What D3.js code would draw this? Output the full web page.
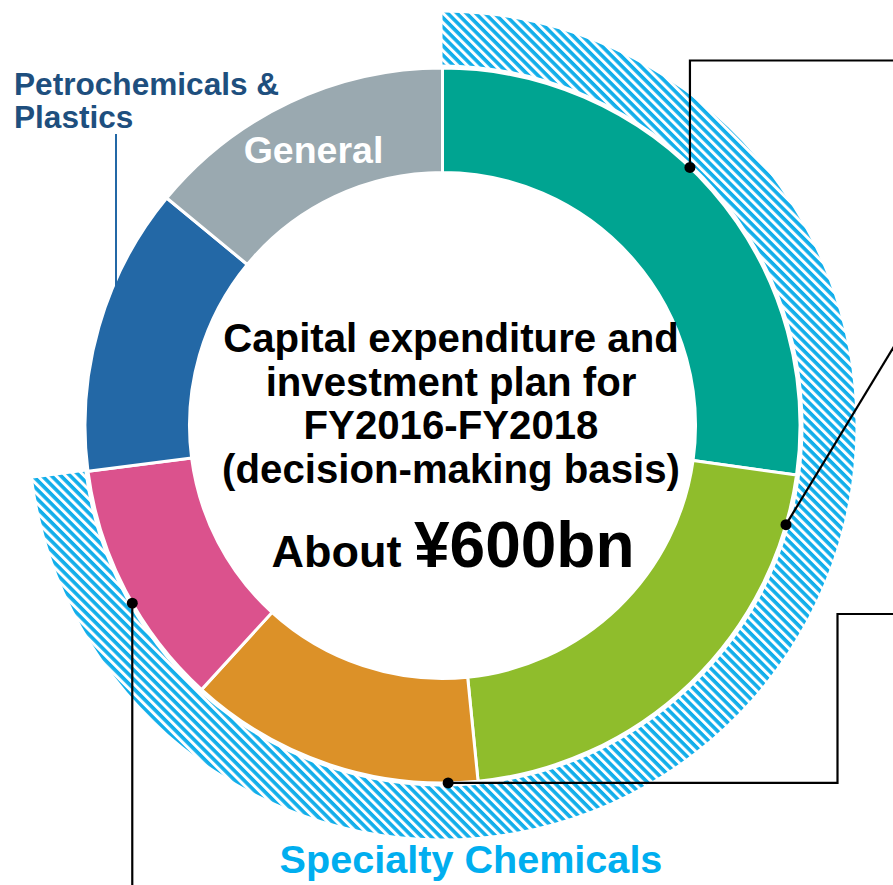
<!DOCTYPE html>
<meta charset="utf-8">
<style>
body { margin: 0; background: #fff; }
svg { display: block; }
text { font-family: "Liberation Sans", Arial, Helvetica, sans-serif; font-weight: bold; }
</style>
<svg width="893" height="885"></svg>
<script src="https://d3js.org/d3.v7.min.js"></script>
<script>

// segments, clockwise from 12 o'clock (¥bn, approx)
var segments = ["Specialty A", "Specialty B", "Specialty C", "Specialty D", "Petrochemicals & Plastics", "General"];
var amounts  = [163, 127, 80, 67, 78, 84];
var colours  = ["#00a491", "#8fbd2c", "#dc9128", "#db528d", "#2368a6", "#9aa9b0"];
var specialty = [true, true, true, true, false, false];

// where the leader dots sit on the ring (degrees, clockwise from top)
var dotAngles = [43.8, 106.1, 179.1, 240.2];

var centerLines = ["Capital expenditure and", "investment plan for", "FY2016-FY2018", "(decision-making basis)"];

var svg = d3.select("svg"),
    width = +svg.attr("width"),
    height = +svg.attr("height"),
    cx = 442.5, cy = 425.5,
    outerR = 357.5, innerR = 253,
    hatchIn = 361, hatchOut = 413;

var rad = Math.PI / 180;

var defs = svg.append("defs");
var pat = defs.append("pattern")
    .attr("id", "hatch")
    .attr("patternUnits", "userSpaceOnUse")
    .attr("width", 6.6).attr("height", 6.6)
    .attr("patternTransform", "rotate(45)");
pat.append("rect").attr("width", 6.6).attr("height", 6.6).attr("fill", "#fff");
pat.append("rect").attr("width", 6.6).attr("height", 3.6).attr("fill", "#12aeea");

var g = svg.append("g").attr("transform", "translate(" + cx + "," + cy + ")");

var data = segments.map(function(d, i) { return {name: d, value: amounts[i], colour: colours[i], sc: specialty[i]}; });

var pie = d3.pie().sort(null).value(function(d) { return d.value; });
var arcs = pie(data);

// hatched outer band spanning the specialty chemicals segments
var scArcs = arcs.filter(function(d) { return d.data.sc; });
g.append("path")
    .attr("d", d3.arc().innerRadius(hatchIn).outerRadius(hatchOut)
      .startAngle(d3.min(scArcs, function(d) { return d.startAngle; }))
      .endAngle(d3.max(scArcs, function(d) { return d.endAngle; }))())
    .attr("fill", "url(#hatch)");

// petrochemicals label leader (sits behind the ring)
svg.append("line")
    .attr("x1", 116).attr("x2", 116)
    .attr("y1", 134).attr("y2", 300)
    .attr("stroke", "#2368a6").attr("stroke-width", 2);

var arc = d3.arc().innerRadius(innerR).outerRadius(outerR);
g.selectAll("path.seg")
    .data(arcs)
    .enter().append("path")
      .attr("class", "seg")
      .attr("d", arc)
      .attr("fill", function(d) { return d.data.colour; })
      .attr("stroke", "#fff")
      .attr("stroke-width", 3);

// leader lines
function pt(a) { return [cx + outerR * Math.sin(a * rad), cy - outerR * Math.cos(a * rad)]; }
var p0 = pt(dotAngles[0]), p1 = pt(dotAngles[1]), p2 = pt(dotAngles[2]), p3 = pt(dotAngles[3]);
var leaders = [
  [p0, [p0[0], 60.5], [width + 5, 60.5]],
  [p1, [width + 5, p1[1] - (width + 5 - p1[0]) * 1.65]],
  [p2, [837.5, p2[1]], [837.5, 614], [width + 5, 614]],
  [p3, [p3[0], height + 5]]
];
var line = d3.line();
svg.selectAll("path.leader")
    .data(leaders)
    .enter().append("path")
      .attr("class", "leader")
      .attr("d", line)
      .attr("fill", "none")
      .attr("stroke", "#000")
      .attr("stroke-width", 2.2);
svg.selectAll("circle.dot")
    .data([p0, p1, p2, p3])
    .enter().append("circle")
      .attr("class", "dot")
      .attr("cx", function(d) { return d[0]; })
      .attr("cy", function(d) { return d[1]; })
      .attr("r", 5.5)
      .attr("fill", "#000");

// labels
svg.append("text")
    .attr("x", 313.5).attr("y", 163)
    .attr("text-anchor", "middle")
    .attr("fill", "#fff")
    .style("font-size", "37.5px")
    .text("General");

var petro = svg.append("text")
    .attr("fill", "#1e4f7e")
    .style("font-size", "31.6px");
petro.append("tspan").attr("x", 14).attr("y", 95).text("Petrochemicals &");
petro.append("tspan").attr("x", 14).attr("y", 128).text("Plastics");

svg.append("text")
    .attr("x", 471).attr("y", 873)
    .attr("text-anchor", "middle")
    .attr("fill", "#00aeef")
    .style("font-size", "39.6px")
    .text("Specialty Chemicals");

svg.selectAll("text.center")
    .data(centerLines)
    .enter().append("text")
      .attr("class", "center")
      .attr("x", 451)
      .attr("y", function(d, i) { return 352 + i * 43.5; })
      .attr("text-anchor", "middle")
      .attr("fill", "#000")
      .style("font-size", "40.2px")
      .text(function(d) { return d; });

var total = svg.append("text")
    .attr("x", 453).attr("y", 567)
    .attr("text-anchor", "middle")
    .attr("fill", "#000");
total.append("tspan").style("font-size", "45px").text("About ");
total.append("tspan").style("font-size", "64px").text("¥600bn");

</script>
